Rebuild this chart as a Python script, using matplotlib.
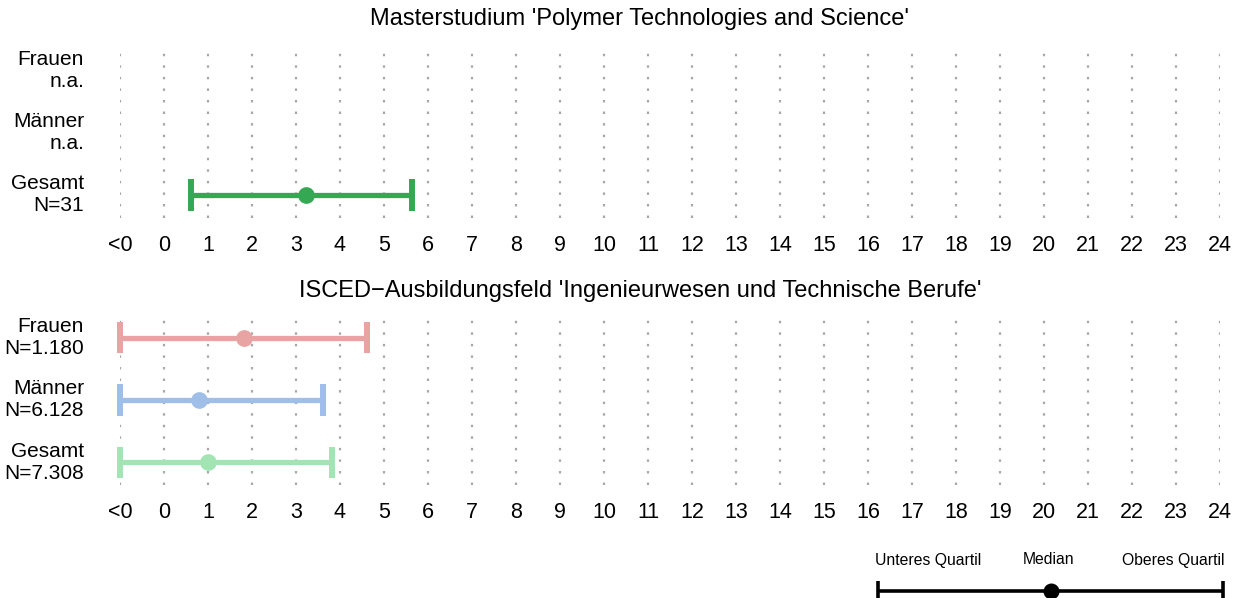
import matplotlib.pyplot as plt
from matplotlib.transforms import blended_transform_factory

plt.rcParams['font.family'] = ['Liberation Sans', 'DejaVu Sans']

# x axis: "<0" sits at -1, then 0..24
ticks = list(range(-1, 25))
tick_labels = ['<0'] + [str(i) for i in range(25)]

# top panel
title_1 = "Masterstudium 'Polymer Technologies and Science'"
rows_1 = ['Frauen\nn.a.', 'Männer\nn.a.', 'Gesamt\nN=31']
low_1 = [None, None, 0.61]
med_1 = [None, None, 3.22]
high_1 = [None, None, 5.63]
colors_1 = ['#E8A3A3', '#9FBFE8', '#35A853']

# bottom panel
title_2 = "ISCED\u2212Ausbildungsfeld 'Ingenieurwesen und Technische Berufe'"
rows_2 = ['Frauen\nN=1.180', 'Männer\nN=6.128', 'Gesamt\nN=7.308']
low_2 = [-1, -1, -1]
med_2 = [1.82, 0.80, 1.01]
high_2 = [4.62, 3.62, 3.82]
colors_2 = ['#E8A3A3', '#9FBFE8', '#A3E4B5']

legend_labels = ['Unteres Quartil', 'Median', 'Oberes Quartil']

W, H = 1246, 598
fig = plt.figure(figsize=(W / 100, H / 100), dpi=100)


def px_axes(left, top, right, bottom):
    return fig.add_axes([left / W, 1 - bottom / H, (right - left) / W, (bottom - top) / H])


def panel(top, bottom, title, title_y, rows, low, med, high, colors):
    ax = px_axes(120, top, 1220, bottom)
    ax.set_xlim(-1, 24)
    ax.set_ylim(-0.37, 2.37)
    for s in ax.spines.values():
        s.set_visible(False)
    ax.set_yticks([])
    ax.set_xticks(ticks)
    ax.set_xticklabels(tick_labels, fontsize=15.5)
    ax.tick_params(axis='x', length=0, pad=12)
    for t in ticks:
        ax.axvline(t, color='#A8A8A8', lw=1.6, ls=(0, (1.1, 4.1)), zorder=1)
    tr = blended_transform_factory(fig.transFigure, ax.transData)
    for i, lab in enumerate(rows):
        y = 2 - i
        ax.text(84 / W, y, lab, transform=tr, ha='right', va='center',
                fontsize=15, linespacing=1.2, multialignment='right')
        if med[i] is None:
            continue
        c = colors[i]
        ax.plot([low[i], high[i]], [y, y], color=c, lw=3.8, solid_capstyle='butt',
                zorder=3, clip_on=False)
        ax.vlines([low[i], high[i]], y - 0.25, y + 0.25, color=c, lw=4.3,
                  zorder=3, clip_on=False)
        ax.plot(med[i], y, 'o', color=c, ms=11, zorder=4, clip_on=False)
    fig.text(640 / W, 1 - title_y / H, title, ha='center', va='center', fontsize=17)
    return ax


panel(47, 218, title_1, 19, rows_1, low_1, med_1, high_1, colors_1)
panel(315, 485, title_2, 291, rows_2, low_2, med_2, high_2, colors_2)

# legend key in the bottom right corner
lg = px_axes(878, 575, 1223, 607)
lg.set_xlim(0, 1)
lg.set_ylim(0, 1)
lg.axis('off')
lg.plot([0, 1], [0.5, 0.5], color='black', lw=2.6, solid_capstyle='butt', clip_on=False)
lg.vlines([0, 1], 0.2, 0.8, color='black', lw=2.6, clip_on=False)
lg.plot(0.5, 0.5, 'o', color='black', ms=10.5, clip_on=False)
fig.text(875 / W, 1 - 560 / H, legend_labels[0], ha='left', va='center', fontsize=11.3)
fig.text(1049 / W, 1 - 560 / H, legend_labels[1], ha='center', va='center', fontsize=11.3)
fig.text(1224 / W, 1 - 560 / H, legend_labels[2], ha='right', va='center', fontsize=11.3)

fig.savefig('out.png', dpi=100)
